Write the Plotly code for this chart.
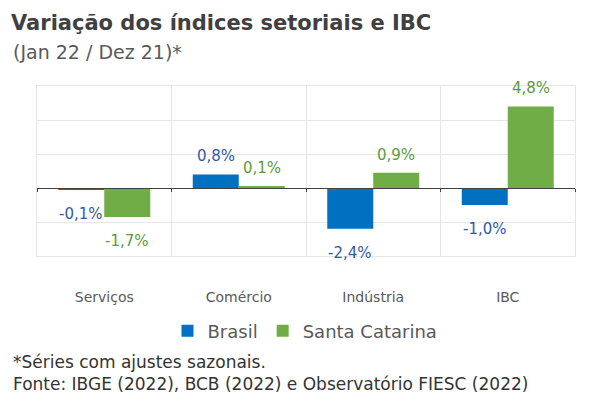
import plotly.graph_objects as go

categories = ["Serviços", "Comércio", "Indústria", "IBC"]
brasil = [-0.1, 0.8, -2.4, -1.0]
santa_catarina = [-1.7, 0.1, 0.9, 4.8]
series_names = ["Brasil", "Santa Catarina"]
bar_colors = ["#0070C0", "#70AD47"]
label_colors = ["#2F5AA8", "#5B9A3C"]

OFF = 8  # page body margin
W, H = 600 - OFF, 410 - OFF
L, R, T, B = 37 - OFF, 575 - OFF, 85.5 - OFF, 256.5 - OFF
FONT = "DejaVu Sans"


def px(x):
    return (x - OFF - L) / (R - L)


def py(y):
    return (B - (y - OFF)) / (B - T)


def fmt(v):
    return f"{v:.1f}".replace(".", ",") + "%"


fig = go.Figure()
for name, vals, col in zip(series_names, [brasil, santa_catarina], bar_colors):
    fig.add_trace(go.Bar(name=name, x=categories, y=vals, marker=dict(color=col, line_width=0)))

# invisible helper trace for the zero axis line
fig.add_trace(go.Scatter(x=categories, y=[0] * len(categories), xaxis="x2", mode="markers",
                         marker=dict(opacity=0), showlegend=False, hoverinfo="skip"))

annotations = []
offsets = [-23, 23]
for vals, lc, dx in zip([brasil, santa_catarina], label_colors, offsets):
    for c, v in zip(categories, vals):
        annotations.append(dict(x=c, y=v, xref="x", yref="y", text=fmt(v), showarrow=False,
                                xshift=dx, yshift=18 if v >= 0 else -24, yanchor="middle",
                                font=dict(family=FONT, size=15, color=lc)))

annotations.append(dict(xref="paper", yref="paper", x=px(11), y=py(51), xanchor="left", yanchor="middle",
                        text="(Jan 22 / Dez 21)*", showarrow=False,
                        font=dict(family=FONT, size=19, color="#595959")))
annotations.append(dict(xref="paper", yref="paper", x=px(11), y=py(363), xanchor="left", yanchor="middle",
                        text="*Séries com ajustes sazonais.", showarrow=False,
                        font=dict(family=FONT, size=17, color="#333333")))
annotations.append(dict(xref="paper", yref="paper", x=px(11), y=py(385), xanchor="left", yanchor="middle",
                        text="Fonte: IBGE (2022), BCB (2022) e Observatório FIESC (2022)", showarrow=False,
                        font=dict(family=FONT, size=17, color="#333333")))

fig.update_layout(
    width=W, height=H,
    margin=dict(l=L, r=W - R, t=T, b=H - B, autoexpand=False),
    paper_bgcolor="white", plot_bgcolor="white",
    barmode="group", bargap=0.316, bargroupgap=0,
    separators=",.",
    title=dict(text="<b>Variação dos índices setoriais e IBC</b>", x=(11 - OFF) / W, xanchor="left",
               y=1 - (23 - OFF) / H, yanchor="middle", xref="container", yref="container",
               font=dict(family=FONT, size=21, color="#404040")),
    xaxis=dict(type="category", categoryarray=categories, range=[-0.5, 3.5],
               tickson="boundaries", showgrid=True, gridcolor="#E6E6E6", gridwidth=1,
               showline=True, linecolor="#E6E6E6", mirror=True, ticks="",
               ticklabelstandoff=28,
               tickfont=dict(family=FONT, size=14, color="#595959")),
    xaxis2=dict(type="category", categoryarray=categories, range=[-0.5, 3.5], overlaying="x",
                anchor="free", position=0.4, side="bottom",
                tickson="boundaries", showgrid=False, showline=True, linecolor="#404040", linewidth=1,
                ticks="outside", ticklen=3, tickcolor="#404040", showticklabels=False),
    yaxis=dict(range=[-4, 6], dtick=2, showgrid=True, gridcolor="#E6E6E6", zeroline=False,
               showline=True, linecolor="#E6E6E6", mirror=True, showticklabels=False, ticks=""),
    legend=dict(orientation="h", x=px(305), xanchor="center", y=py(332), yanchor="middle",
                font=dict(family=FONT, size=18, color="#595959"), itemwidth=30,
                traceorder="normal", bgcolor="rgba(0,0,0,0)"),
    annotations=annotations,
    showlegend=True,
)

fig.write_html("out.html")
